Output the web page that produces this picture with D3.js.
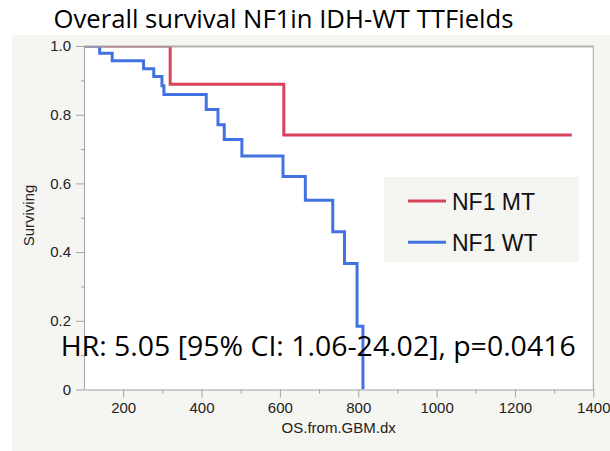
<!DOCTYPE html>
<html>
<head>
<meta charset="utf-8">
<script src="https://cdn.jsdelivr.net/npm/d3@7"></script>
<style>
  html, body { margin: 0; padding: 0; background: #ffffff; }
  svg { display: block; }
</style>
</head>
<body>
<svg id="chart" width="610" height="451"></svg>
<script>
// ---- data ----
const titleText = "Overall survival NF1in IDH-WT TTFields";
const annotationText = "HR: 5.05 [95% CI: 1.06-24.02], p=0.0416";
const xLabel = "OS.from.GBM.dx";
const yLabel = "Surviving";
const seriesNames = ["NF1 MT", "NF1 WT"];
const seriesColors = ["#d8425a", "#4272e2"];
// Kaplan-Meier steps: [time, survival after this time]
const mtTimes = [100, 320, 610, 1345];
const mtSurv  = [1.0, 0.889, 0.741, 0.741];
const wtTimes = [100, 140, 172, 252, 278, 299, 304, 412, 442, 458, 503, 608, 665, 735, 765, 797, 812];
const wtSurv  = [1.0, 0.979, 0.957, 0.934, 0.911, 0.884, 0.859, 0.815, 0.771, 0.728, 0.680, 0.620, 0.551, 0.459, 0.367, 0.184, 0.0];
const xTicks = [200, 400, 600, 800, 1000, 1200, 1400];
const xMinorTicks = [300, 500, 700, 900, 1100, 1300];
const yTicks = [0, 0.2, 0.4, 0.6, 0.8, 1.0];
const yMinorTicks = [0.1, 0.3, 0.5, 0.7, 0.9];

// ---- layout ----
const svg = d3.select("#chart");
const L = 84, R = 593.3, T = 46, B = 389.5;
const x = d3.scaleLinear().domain([100, 1400]).range([L, R]);
const y = d3.scaleLinear().domain([0, 1]).range([B, T]);
const axisColor = "#a3a3a3";
const labelFont = "'Liberation Sans', Arial, sans-serif";
const bigFont = "'Open Sans', 'Noto Sans', sans-serif";

// gray panel
svg.append("rect").attr("x", 12).attr("y", 35).attr("width", 598).attr("height", 416).attr("fill", "#f5f5f1");
// plot area
svg.append("rect").attr("x", L).attr("y", T).attr("width", R - L).attr("height", B - T).attr("fill", "#ffffff");

// clip
svg.append("clipPath").attr("id", "plotclip").append("rect")
  .attr("x", L).attr("y", T).attr("width", R - L).attr("height", B - T);

// title
svg.append("text").attr("x", 53.5).attr("y", 28.3)
  .attr("font-family", bigFont).attr("font-size", 25.5).attr("fill", "#000")
  .attr("textLength", 460).attr("lengthAdjust", "spacingAndGlyphs")
  .text(titleText);

// curves
const stepLine = d3.line().x(d => x(d[0])).y(d => y(d[1])).curve(d3.curveStepAfter);
const series = [
  d3.zip(mtTimes, mtSurv),
  d3.zip(wtTimes, wtSurv)
];
const g = svg.append("g").attr("clip-path", "url(#plotclip)");
series.forEach((s, i) => {
  g.append("path").datum(s).attr("d", stepLine)
    .attr("fill", "none").attr("stroke", seriesColors[i]).attr("stroke-width", 3)
    .attr("stroke-linejoin", "miter");
});

// frame top/right
svg.append("line").attr("x1", L).attr("x2", R).attr("y1", T + 0.5).attr("y2", T + 0.5)
  .attr("stroke", axisColor).attr("stroke-width", 2).attr("stroke-opacity", 0.85);
svg.append("line").attr("x1", R).attr("x2", R).attr("y1", T).attr("y2", B).attr("stroke", axisColor).attr("stroke-width", 1);

// x axis
svg.append("g").attr("transform", `translate(0,${B})`)
  .call(d3.axisBottom(x).tickValues(xTicks).tickSize(8).tickSizeOuter(0).tickPadding(5).tickFormat(d3.format("d")));
svg.append("g").attr("transform", `translate(0,${B})`)
  .call(d3.axisBottom(x).tickValues(xMinorTicks).tickSize(4).tickSizeOuter(0).tickFormat(""))
  .call(a => a.select(".domain").remove());
// y axis
svg.append("g").attr("transform", `translate(${L},0)`)
  .call(d3.axisLeft(y).tickValues(yTicks).tickSize(8).tickSizeOuter(0).tickPadding(5)
    .tickFormat(d => d === 0 ? "0" : d3.format(".1f")(d)));
svg.append("g").attr("transform", `translate(${L},0)`)
  .call(d3.axisLeft(y).tickValues(yMinorTicks).tickSize(3).tickSizeOuter(0).tickFormat(""))
  .call(a => a.select(".domain").remove());

svg.selectAll(".domain").attr("stroke", axisColor);
svg.selectAll(".tick line").attr("stroke", axisColor);
svg.selectAll(".tick text").attr("font-family", labelFont).attr("font-size", 15).attr("fill", "#222");

// axis titles
svg.append("text").attr("x", (L + R) / 2).attr("y", 433).attr("text-anchor", "middle")
  .attr("font-family", labelFont).attr("font-size", 15).attr("fill", "#222").text(xLabel);
svg.append("text").attr("transform", "translate(34,215.5) rotate(-90)").attr("text-anchor", "middle")
  .attr("font-family", labelFont).attr("font-size", 15).attr("fill", "#222").text(yLabel);

// legend
svg.append("rect").attr("x", 384).attr("y", 177).attr("width", 195).attr("height", 85).attr("fill", "#f4f4f0");
seriesNames.forEach((name, i) => {
  const ly = 201 + i * 41.3;
  svg.append("line").attr("x1", 408).attr("x2", 446).attr("y1", ly).attr("y2", ly)
    .attr("stroke", seriesColors[i]).attr("stroke-width", 3);
  svg.append("text").attr("x", 452).attr("y", ly + 8.5)
    .attr("font-family", labelFont).attr("font-size", 23).attr("fill", "#111").text(name);
});

// annotation
svg.append("text").attr("x", 60.7).attr("y", 355.7)
  .attr("font-family", bigFont).attr("font-size", 28).attr("fill", "#000")
  .attr("textLength", 515).attr("lengthAdjust", "spacingAndGlyphs")
  .text(annotationText);
</script>
</body>
</html>
